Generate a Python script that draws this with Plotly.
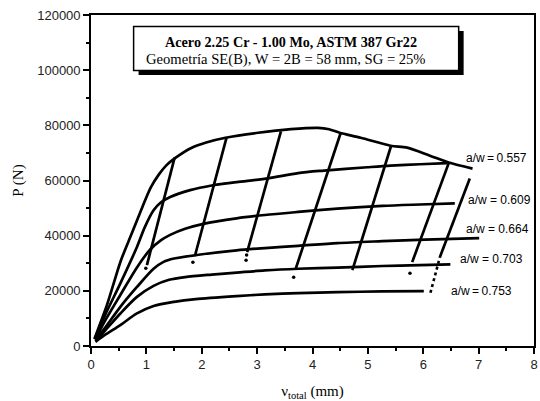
import plotly.graph_objects as go

# Load (N) versus total displacement (mm) for each crack-length record
env_v = [0.06, 0.29, 0.54, 0.73, 0.93, 1.08, 1.23, 1.36, 1.53, 1.82, 2.08, 2.43, 3.02,
         3.61, 4.10, 4.30, 4.49, 4.87, 5.41, 5.71, 6.12, 6.46, 6.89]
env_p = [2500, 15000, 31000, 40500, 50500, 57500, 62300, 65500, 68300, 71900, 73800, 75500, 77300,
         78600, 79100, 78600, 77300, 75500, 72600, 71900, 69000, 66500, 64300]

aw_labels = ["0.557", "0.609", "0.664", "0.703", "0.753"]

v_557 = [0.08, 0.25, 0.53, 0.83, 0.97, 1.13, 1.26, 1.43, 1.79, 2.18, 2.63, 3.20, 3.74, 4.21, 4.99, 5.41, 5.94, 6.43]
p_557 = [3000, 11000, 22700, 35900, 43000, 49200, 52000, 54000, 56500, 58200, 59400, 60800, 62700, 63600, 64800, 65400, 65900, 66300]

v_609 = [0.08, 0.25, 0.53, 0.83, 1.07, 1.26, 1.43, 1.70, 2.03, 2.63, 3.14, 3.74, 4.45, 5.26, 5.94, 6.57]
p_609 = [2500, 9000, 18500, 28500, 35000, 38300, 40300, 42500, 44300, 46300, 47500, 48600, 49800, 50800, 51300, 51700]

v_664 = [0.08, 0.25, 0.53, 0.83, 1.13, 1.31, 1.50, 1.91, 2.63, 3.14, 3.74, 4.45, 5.26, 6.03, 7.01]
p_664 = [2200, 6500, 14200, 21400, 28000, 30500, 31700, 33000, 34700, 35500, 36300, 37300, 38000, 38600, 39100]

v_703 = [0.08, 0.25, 0.53, 0.83, 1.13, 1.41, 1.70, 2.18, 2.63, 3.14, 3.74, 4.45, 5.26, 5.94, 6.49]
p_703 = [1800, 5500, 11800, 17800, 21800, 24000, 25000, 25900, 26600, 27400, 28000, 28400, 29000, 29300, 29600]

v_753 = [0.08, 0.25, 0.53, 0.83, 1.13, 1.50, 1.89, 2.63, 3.14, 3.74, 4.45, 5.26, 6.01]
p_753 = [1500, 4000, 7600, 11800, 14500, 16000, 17000, 18100, 18700, 19200, 19500, 19800, 19900]

# Steep partial-unloading segments (start and end of each)
unl_v0 = [1.01, 1.88, 2.82, 3.70, 4.72, 5.80, 6.30]
unl_p0 = [29300, 32900, 34000, 28200, 27500, 30400, 32200]
unl_v1 = [1.51, 2.45, 3.43, 4.51, 5.42, 6.46, 6.84]
unl_p1 = [68300, 75700, 77800, 77300, 72600, 66300, 60700]

# Sparse lower tail of the last segment
tail_v = [6.13, 6.30]
tail_p = [19300, 32200]

# Stray points below the segment ends
dot_v = [0.99, 1.84, 2.80, 2.81, 3.66, 5.76]
dot_p = [28200, 30400, 31100, 33000, 24900, 26400]

# Label anchor (left edge, vertical centre) for each a/w record
lab_v = [6.73, 6.78, 6.73, 6.62, 6.46]
lab_p = [68300, 53100, 42600, 31400, 19900]
lab_sep = ["\u2009", " ", " ", " ", "\u2009"]

curves_v = [v_557, v_609, v_664, v_703, v_753]
curves_p = [p_557, p_609, p_664, p_703, p_753]

LW = 2.7
fig = go.Figure()

fig.add_trace(go.Scatter(x=env_v, y=env_p, mode="lines",
                         line=dict(color="black", width=LW, shape="spline", smoothing=0.8),
                         showlegend=False))
for v, p in zip(curves_v, curves_p):
    fig.add_trace(go.Scatter(x=v, y=p, mode="lines",
                             line=dict(color="black", width=LW, shape="spline", smoothing=0.8),
                             showlegend=False))
for a0, b0, a1, b1 in zip(unl_v0, unl_p0, unl_v1, unl_p1):
    fig.add_trace(go.Scatter(x=[a0, a1], y=[b0, b1], mode="lines",
                             line=dict(color="black", width=LW), showlegend=False))
fig.add_trace(go.Scatter(x=tail_v, y=tail_p, mode="lines",
                         line=dict(color="black", width=2.6, dash="dot"), showlegend=False))
fig.add_trace(go.Scatter(x=dot_v, y=dot_p, mode="markers",
                         marker=dict(color="black", size=3.5), showlegend=False))

for txt, sep, lv, lp in zip(aw_labels, lab_sep, lab_v, lab_p):
    fig.add_annotation(x=lv, y=lp, xref="x", yref="y", text=f"a/w{sep}={sep}{txt}",
                       showarrow=False, xanchor="left", yanchor="middle",
                       font=dict(family="Liberation Sans, Arial", size=12, color="black"))

# Title box with drop shadow, placed in plot-area fractions
L, R, T, B = 91.0, 538.0, 15.0, 346.0
def px_x(px):
    return (px - L) / (R - L)
def px_y(py):
    return (B - py) / (B - T)

fig.add_shape(type="rect", xref="paper", yref="paper",
              x0=px_x(139), x1=px_x(467), y0=px_y(75), y1=px_y(31),
              fillcolor="black", line=dict(width=0))
fig.add_shape(type="rect", xref="paper", yref="paper",
              x0=px_x(134), x1=px_x(462), y0=px_y(70.5), y1=px_y(26.5),
              fillcolor="white", line=dict(color="black", width=1.5))
fig.add_annotation(x=px_x(293), y=px_y(42), xref="paper", yref="paper",
                   text="<b>Acero 2.25 Cr - 1.00 Mo, ASTM 387 Gr22</b>", showarrow=False,
                   xanchor="center", yanchor="middle",
                   font=dict(family="Liberation Serif, Times New Roman", size=14.2, color="black"))
fig.add_annotation(x=px_x(288), y=px_y(59), xref="paper", yref="paper",
                   text="Geometría SE(B), W = 2B = 58 mm, SG = 25%", showarrow=False,
                   xanchor="center", yanchor="middle",
                   font=dict(family="Liberation Serif, Times New Roman", size=14.6, color="black"))

axis_common = dict(showgrid=False, zeroline=False, showline=True, linecolor="black", linewidth=1.6,
                   mirror=True, ticks="outside", tickcolor="black", tickwidth=1.5, ticklen=6,
                   tickfont=dict(family="Liberation Sans, Arial", size=13, color="#222"))

fig.update_layout(
    width=540, height=401,
    margin=dict(l=L, r=540 - R, t=T, b=401 - B),
    paper_bgcolor="white", plot_bgcolor="white",
    showlegend=False,
    xaxis=dict(range=[0, 8], tick0=0, dtick=1,
               minor=dict(dtick=0.5, ticks="outside", ticklen=3, tickwidth=1.5, tickcolor="black"),
               title=dict(text="ν<sub>total</sub> (mm)", standoff=14,
                          font=dict(family="Liberation Serif, Times New Roman", size=15, color="black")),
               **axis_common),
    yaxis=dict(range=[0, 120000], tick0=0, dtick=20000, tickformat="d",
               minor=dict(dtick=10000, ticks="outside", ticklen=3, tickwidth=1.5, tickcolor="black"),
               title=dict(text="P (N)", standoff=10,
                          font=dict(family="Liberation Serif, Times New Roman", size=15, color="black")),
               **axis_common),
)

fig.write_html("out.html")
